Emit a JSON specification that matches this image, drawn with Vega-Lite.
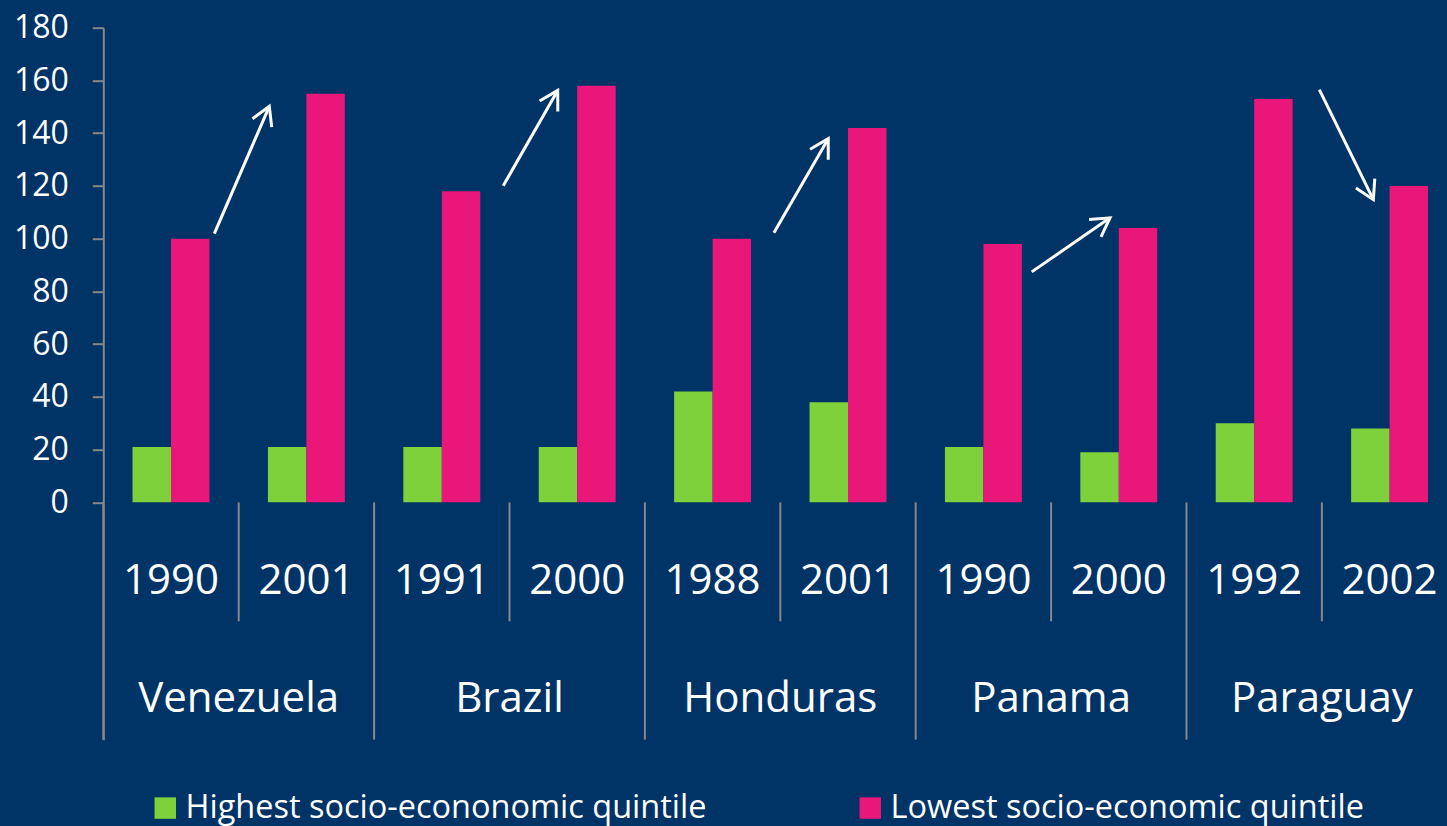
{
  "$schema": "https://vega.github.io/schema/vega-lite/v6.json",
  "width": 1344,
  "height": 712,
  "autosize": {"type": "none"},
  "padding": {"left": 103.3, "top": 27.7, "right": 0, "bottom": 86.3},
  "background": "#003366",
  "config": {"view": {"stroke": null}, "font": "Open Sans"},
  "datasets": {
    "bars": [
      {"country": "Venezuela", "year": "1990", "period": "Venezuela 1990", "series": "Highest socio-econonomic quintile", "value": 21},
      {"country": "Venezuela", "year": "1990", "period": "Venezuela 1990", "series": "Lowest socio-economic quintile", "value": 100},
      {"country": "Venezuela", "year": "2001", "period": "Venezuela 2001", "series": "Highest socio-econonomic quintile", "value": 21},
      {"country": "Venezuela", "year": "2001", "period": "Venezuela 2001", "series": "Lowest socio-economic quintile", "value": 155},
      {"country": "Brazil", "year": "1991", "period": "Brazil 1991", "series": "Highest socio-econonomic quintile", "value": 21},
      {"country": "Brazil", "year": "1991", "period": "Brazil 1991", "series": "Lowest socio-economic quintile", "value": 118},
      {"country": "Brazil", "year": "2000", "period": "Brazil 2000", "series": "Highest socio-econonomic quintile", "value": 21},
      {"country": "Brazil", "year": "2000", "period": "Brazil 2000", "series": "Lowest socio-economic quintile", "value": 158},
      {"country": "Honduras", "year": "1988", "period": "Honduras 1988", "series": "Highest socio-econonomic quintile", "value": 42},
      {"country": "Honduras", "year": "1988", "period": "Honduras 1988", "series": "Lowest socio-economic quintile", "value": 100},
      {"country": "Honduras", "year": "2001", "period": "Honduras 2001", "series": "Highest socio-econonomic quintile", "value": 38},
      {"country": "Honduras", "year": "2001", "period": "Honduras 2001", "series": "Lowest socio-economic quintile", "value": 142},
      {"country": "Panama", "year": "1990", "period": "Panama 1990", "series": "Highest socio-econonomic quintile", "value": 21},
      {"country": "Panama", "year": "1990", "period": "Panama 1990", "series": "Lowest socio-economic quintile", "value": 98},
      {"country": "Panama", "year": "2000", "period": "Panama 2000", "series": "Highest socio-econonomic quintile", "value": 19},
      {"country": "Panama", "year": "2000", "period": "Panama 2000", "series": "Lowest socio-economic quintile", "value": 104},
      {"country": "Paraguay", "year": "1992", "period": "Paraguay 1992", "series": "Highest socio-econonomic quintile", "value": 30},
      {"country": "Paraguay", "year": "1992", "period": "Paraguay 1992", "series": "Lowest socio-economic quintile", "value": 153},
      {"country": "Paraguay", "year": "2002", "period": "Paraguay 2002", "series": "Highest socio-econonomic quintile", "value": 28},
      {"country": "Paraguay", "year": "2002", "period": "Paraguay 2002", "series": "Lowest socio-economic quintile", "value": 120}
    ],
    "periods": [
      {"country": "Venezuela", "year": "1990", "period": "Venezuela 1990", "order": 1},
      {"country": "Venezuela", "year": "2001", "period": "Venezuela 2001", "order": 2},
      {"country": "Brazil", "year": "1991", "period": "Brazil 1991", "order": 1},
      {"country": "Brazil", "year": "2000", "period": "Brazil 2000", "order": 2},
      {"country": "Honduras", "year": "1988", "period": "Honduras 1988", "order": 1},
      {"country": "Honduras", "year": "2001", "period": "Honduras 2001", "order": 2},
      {"country": "Panama", "year": "1990", "period": "Panama 1990", "order": 1},
      {"country": "Panama", "year": "2000", "period": "Panama 2000", "order": 2},
      {"country": "Paraguay", "year": "1992", "period": "Paraguay 1992", "order": 1},
      {"country": "Paraguay", "year": "2002", "period": "Paraguay 2002", "order": 2}
    ],
    "arrows": [
      {"country": "Venezuela", "xFrom": 0.82, "yFrom": 101.9, "xTo": 1.226, "yTo": 150.2},
      {"country": "Brazil", "xFrom": 2.954, "yFrom": 120.1, "xTo": 3.356, "yTo": 156.2},
      {"country": "Honduras", "xFrom": 4.953, "yFrom": 102.2, "xTo": 5.354, "yTo": 137.9},
      {"country": "Panama", "xFrom": 6.857, "yFrom": 87.4, "xTo": 7.435, "yTo": 107.9},
      {"country": "Paraguay", "xFrom": 8.981, "yFrom": 156.5, "xTo": 9.38, "yTo": 114.8}
    ]
  },
  "layer": [
    {
      "layer": [
        {
          "data": {"name": "bars"},
          "mark": {"type": "bar", "strokeWidth": 0},
          "encoding": {
            "x": {"field": "period", "type": "nominal", "sort": null, "axis": null,
              "scale": {"domain": ["Venezuela 1990", "Venezuela 2001", "Brazil 1991", "Brazil 2000", "Honduras 1988", "Honduras 2001", "Panama 1990", "Panama 2000", "Paraguay 1992", "Paraguay 2002"], "range": [0, 1354], "paddingInner": 0, "paddingOuter": 0}},
            "xOffset": {"field": "series", "type": "nominal", "scale": {"paddingInner": 0, "paddingOuter": 0.76}},
            "y": {"field": "value", "type": "quantitative", "stack": null, "title": null,
              "scale": {"domain": [-90, 180], "nice": false, "zero": false},
              "axis": {"values": [0, 20, 40, 60, 80, 100, 120, 140, 160, 180], "title": null, "grid": false,
                "tickSize": 11, "tickWidth": 2, "tickColor": "#888888", "domainColor": "#888888", "domainWidth": 2,
                "labelColor": "#ffffff", "labelFontSize": 32, "labelFont": "Open Sans", "labelPadding": 24}},
            "color": {"field": "series", "type": "nominal",
              "scale": {"domain": ["Highest socio-econonomic quintile", "Lowest socio-economic quintile"], "range": ["#7fd13b", "#e9177a"]},
              "legend": {"orient": "none", "legendX": 45.7, "legendY": 764, "direction": "horizontal", "title": null,
                "symbolType": "square", "symbolSize": 460, "symbolStrokeWidth": 0, "labelFontSize": 32.5, "labelFont": "Open Sans",
                "labelColor": "#ffffff", "labelOffset": 4, "columnPadding": 147, "labelLimit": 0, "padding": 0}}
          }
        },
        {
          "data": {"name": "periods"},
          "mark": {"type": "text", "color": "#ffffff", "font": "Open Sans", "fontSize": 42, "align": "center", "baseline": "alphabetic"},
          "encoding": {
            "x": {"field": "period", "type": "nominal", "sort": null, "axis": null,
              "scale": {"domain": ["Venezuela 1990", "Venezuela 2001", "Brazil 1991", "Brazil 2000", "Honduras 1988", "Honduras 2001", "Panama 1990", "Panama 2000", "Paraguay 1992", "Paraguay 2002"], "range": [0, 1354], "paddingInner": 0, "paddingOuter": 0}},
            "y": {"datum": -34.6, "type": "quantitative"},
            "text": {"field": "year", "type": "nominal"}
          }
        },
        {
          "data": {"name": "periods"},
          "transform": [{"filter": "datum.order == 1"}],
          "mark": {"type": "text", "color": "#ffffff", "font": "Open Sans", "fontSize": 42, "align": "center", "baseline": "alphabetic"},
          "encoding": {
            "x": {"field": "period", "type": "nominal", "sort": null, "axis": null, "bandPosition": 1,
              "scale": {"domain": ["Venezuela 1990", "Venezuela 2001", "Brazil 1991", "Brazil 2000", "Honduras 1988", "Honduras 2001", "Panama 1990", "Panama 2000", "Paraguay 1992", "Paraguay 2002"], "range": [0, 1354], "paddingInner": 0, "paddingOuter": 0}},
            "y": {"datum": -79.6, "type": "quantitative"},
            "text": {"field": "country", "type": "nominal"}
          }
        },
        {
          "data": {"name": "periods"},
          "transform": [{"filter": "datum.order == 1"}],
          "mark": {"type": "rule", "color": "#888888", "strokeWidth": 2},
          "encoding": {
            "x": {"field": "period", "type": "nominal", "sort": null, "axis": null, "bandPosition": 0,
              "scale": {"domain": ["Venezuela 1990", "Venezuela 2001", "Brazil 1991", "Brazil 2000", "Honduras 1988", "Honduras 2001", "Panama 1990", "Panama 2000", "Paraguay 1992", "Paraguay 2002"], "range": [0, 1354], "paddingInner": 0, "paddingOuter": 0}},
            "y": {"datum": 0, "type": "quantitative"},
            "y2": {"datum": -90}
          }
        },
        {
          "data": {"name": "periods"},
          "transform": [{"filter": "datum.order == 2"}],
          "mark": {"type": "rule", "color": "#888888", "strokeWidth": 2},
          "encoding": {
            "x": {"field": "period", "type": "nominal", "sort": null, "axis": null, "bandPosition": 0,
              "scale": {"domain": ["Venezuela 1990", "Venezuela 2001", "Brazil 1991", "Brazil 2000", "Honduras 1988", "Honduras 2001", "Panama 1990", "Panama 2000", "Paraguay 1992", "Paraguay 2002"], "range": [0, 1354], "paddingInner": 0, "paddingOuter": 0}},
            "y": {"datum": 0, "type": "quantitative"},
            "y2": {"datum": -45.1}
          }
        }
      ]
    },
    {
      "layer": [
        {
          "mark": {"type": "rule", "color": "#888888", "strokeWidth": 2},
          "encoding": {
            "x": {"datum": 0, "type": "quantitative", "axis": null, "scale": {"domain": [0, 10], "range": [0, 1354], "nice": false, "zero": false}},
            "x2": {"datum": 10},
            "y": {"datum": 0, "type": "quantitative"}
          }
        },
        {
          "data": {"name": "arrows"},
          "mark": {"type": "rule", "color": "#ffffff", "strokeWidth": 3},
          "encoding": {
            "x": {"field": "xFrom", "type": "quantitative", "axis": null, "title": null, "scale": {"domain": [0, 10], "range": [0, 1354], "nice": false, "zero": false}},
            "x2": {"field": "xTo"},
            "y": {"field": "yFrom", "type": "quantitative", "title": null},
            "y2": {"field": "yTo"}
          }
        },
        {
          "data": {"name": "arrows"},
          "transform": [{"filter": "datum.country == 'Venezuela'"}],
          "mark": {"type": "point", "shape": "M-0.5,0.866L0,0L0.5,0.866", "size": 1764, "filled": false, "stroke": "#ffffff", "strokeWidth": 3, "opacity": 1, "angle": 23.4},
          "encoding": {
            "x": {"field": "xTo", "type": "quantitative", "axis": null, "title": null},
            "y": {"field": "yTo", "type": "quantitative", "title": null}
          }
        },
        {
          "data": {"name": "arrows"},
          "transform": [{"filter": "datum.country == 'Brazil'"}],
          "mark": {"type": "point", "shape": "M-0.5,0.866L0,0L0.5,0.866", "size": 1764, "filled": false, "stroke": "#ffffff", "strokeWidth": 3, "opacity": 1, "angle": 29.7},
          "encoding": {
            "x": {"field": "xTo", "type": "quantitative", "axis": null, "title": null},
            "y": {"field": "yTo", "type": "quantitative", "title": null}
          }
        },
        {
          "data": {"name": "arrows"},
          "transform": [{"filter": "datum.country == 'Honduras'"}],
          "mark": {"type": "point", "shape": "M-0.5,0.866L0,0L0.5,0.866", "size": 1764, "filled": false, "stroke": "#ffffff", "strokeWidth": 3, "opacity": 1, "angle": 29.9},
          "encoding": {
            "x": {"field": "xTo", "type": "quantitative", "axis": null, "title": null},
            "y": {"field": "yTo", "type": "quantitative", "title": null}
          }
        },
        {
          "data": {"name": "arrows"},
          "transform": [{"filter": "datum.country == 'Panama'"}],
          "mark": {"type": "point", "shape": "M-0.5,0.866L0,0L0.5,0.866", "size": 1764, "filled": false, "stroke": "#ffffff", "strokeWidth": 3, "opacity": 1, "angle": 55.4},
          "encoding": {
            "x": {"field": "xTo", "type": "quantitative", "axis": null, "title": null},
            "y": {"field": "yTo", "type": "quantitative", "title": null}
          }
        },
        {
          "data": {"name": "arrows"},
          "transform": [{"filter": "datum.country == 'Paraguay'"}],
          "mark": {"type": "point", "shape": "M-0.5,0.866L0,0L0.5,0.866", "size": 1764, "filled": false, "stroke": "#ffffff", "strokeWidth": 3, "opacity": 1, "angle": 153.9},
          "encoding": {
            "x": {"field": "xTo", "type": "quantitative", "axis": null, "title": null},
            "y": {"field": "yTo", "type": "quantitative", "title": null}
          }
        }
      ]
    }
  ],
  "resolve": {"scale": {"x": "independent"}}
}
